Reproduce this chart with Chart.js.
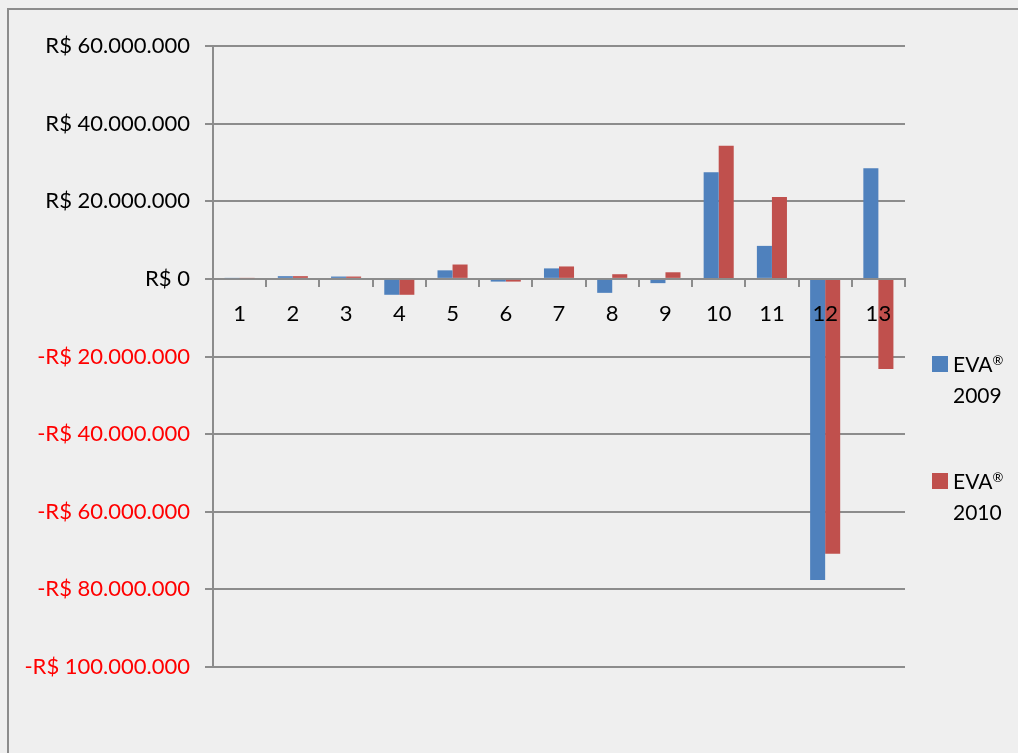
<!DOCTYPE html>
<html lang="pt">
    <head>
        <meta charset="UTF-8" />
        <title>EVA 2009 x 2010</title>
        <script src="https://cdn.jsdelivr.net/npm/chart.js@4.4.0/dist/chart.umd.min.js"></script>
        <style>
            html, body { margin: 0; padding: 0; background: #efefef; overflow: hidden; }
            #frame {
                position: absolute; left: 7px; top: 8px; width: 1100px; height: 800px;
                border: 2px solid #8c8c8c;
            }
            #wrap { position: absolute; left: 0; top: 0; width: 1018px; height: 753px; }
            .legend { position: absolute; left: 932px; font-family: Lato, sans-serif; font-size: 21px; color: #000; line-height: 31px; }
            .legend .box { position: absolute; left: 0; top: 0; width: 16px; height: 16px; }
            .legend .txt { position: absolute; left: 21px; top: -8px; white-space: nowrap; }
            .legend sup { font-size: 13px; vertical-align: 7px; line-height: 0; }
        </style>
    </head>
    <body>
        <div id="frame"></div>
        <div id="wrap"><canvas id="canvas" width="1018" height="753"></canvas></div>
        <div class="legend" style="top: 356px">
            <div class="box" style="background: #4f81bd"></div>
            <div class="txt">EVA<sup>®</sup><br />2009</div>
        </div>
        <div class="legend" style="top: 473px">
            <div class="box" style="background: #c0504d"></div>
            <div class="txt">EVA<sup>®</sup><br />2010</div>
        </div>
        <script>
            var categorias = ["1", "2", "3", "4", "5", "6", "7", "8", "9", "10", "11", "12", "13"];
            var eva2009 = [0.2e6, 0.7e6, 0.6e6, -4.1e6, 2.2e6, -0.7e6, 2.7e6, -3.6e6, -1.1e6, 27.5e6, 8.5e6, -77.6e6, 28.5e6];
            var eva2010 = [0.2e6, 0.7e6, 0.6e6, -4.1e6, 3.7e6, -0.7e6, 3.2e6, 1.2e6, 1.7e6, 34.3e6, 21.1e6, -70.8e6, -23.2e6];
            var eixoMin = -100e6, eixoMax = 60e6, eixoPasso = 20e6;

            function reais(v) {
                var s = Math.abs(v).toString().replace(/\B(?=(\d{3})+(?!\d))/g, ".");
                return (v < 0 ? "-" : "") + "R$ " + s;
            }

            var cinza = "#8c8c8c";
            var fonte = { family: "Lato, sans-serif", size: 22 };

            var ctx = document.getElementById("canvas").getContext("2d");
            var chart = new Chart(ctx, {
                type: "bar",
                data: {
                    labels: categorias,
                    datasets: [
                        { label: "EVA® 2009", data: eva2009, backgroundColor: "#4f81bd" },
                        { label: "EVA® 2010", data: eva2010, backgroundColor: "#c0504d" },
                    ],
                },
                options: {
                    responsive: false,
                    animation: false,
                    layout: { padding: { left: 0, top: 46, right: 113, bottom: 86 } },
                    datasets: { bar: { barPercentage: 1, categoryPercentage: 0.565 } },
                    plugins: { legend: { display: false }, tooltip: { enabled: false } },
                    scales: {
                        x: {
                            position: { y: 0 },
                            grid: { offset: true, drawOnChartArea: false, color: cinza, lineWidth: 2, tickLength: 7 },
                            border: { display: true, color: cinza, width: 2 },
                            // category numbers sit on top of the bars
                            ticks: { z: 1, color: "#000", font: fonte, padding: 15, maxRotation: 0, autoSkip: false },
                        },
                        y: {
                            min: eixoMin,
                            max: eixoMax,
                            afterFit: function (scale) { scale.width = 213; },
                            grid: { color: cinza, lineWidth: 2, tickLength: 8 },
                            border: { display: true, color: cinza, width: 2 },
                            ticks: {
                                stepSize: eixoPasso,
                                font: fonte,
                                padding: 15,
                                color: function (c) { return c.tick && c.tick.value < 0 ? "#ff0000" : "#000"; },
                                callback: function (v) { return reais(v); },
                            },
                        },
                    },
                },
            });
        </script>
    </body>
</html>
